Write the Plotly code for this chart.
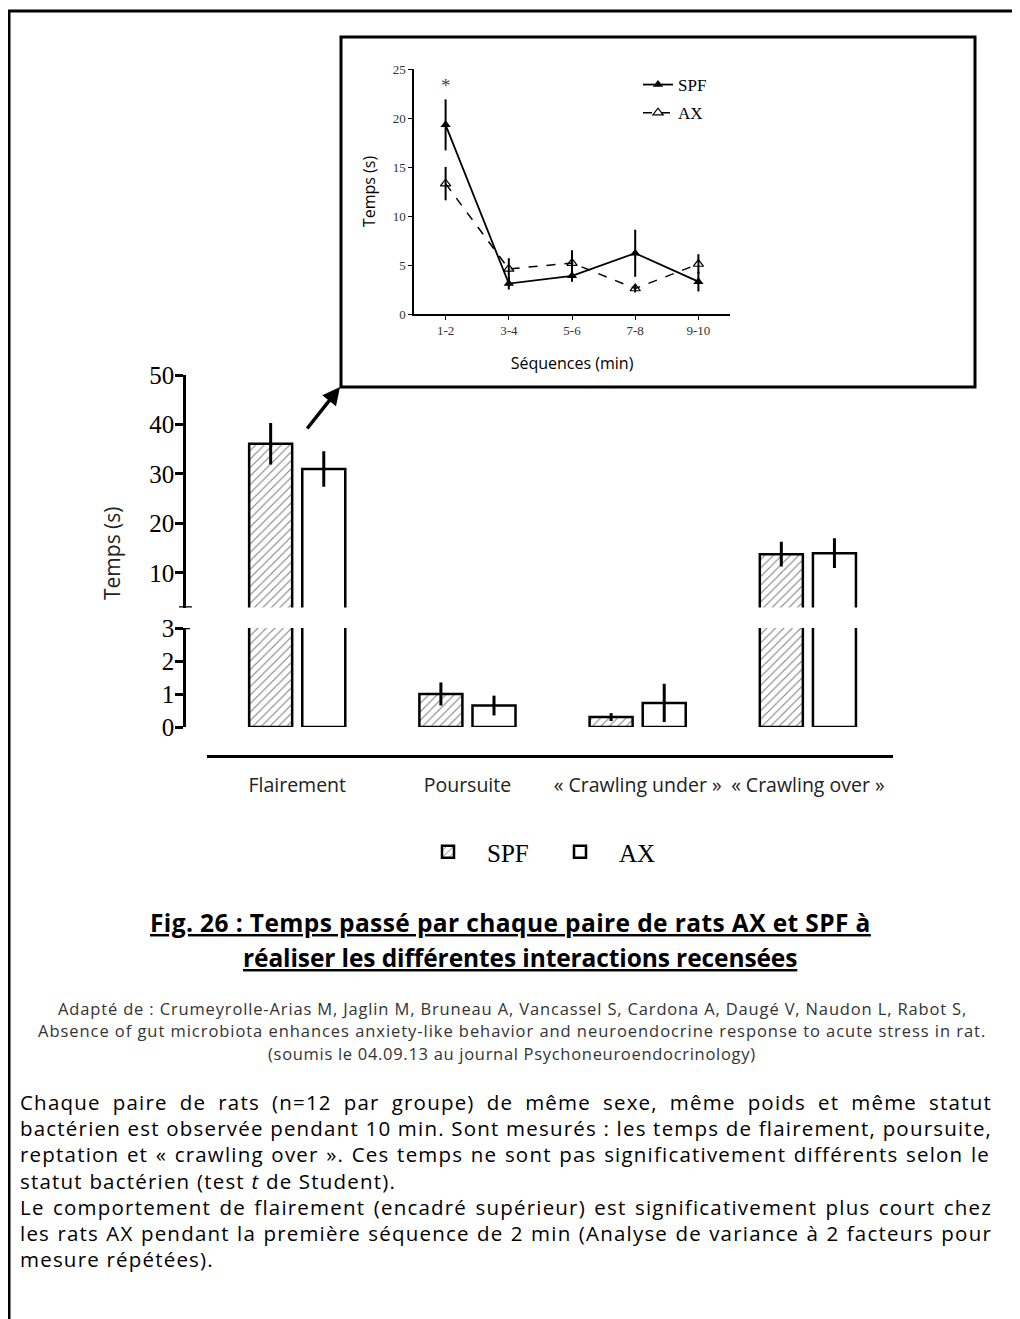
import plotly.graph_objects as go

W, H = 1020, 1319
OFF = 8  # default page margin of the html body
def px(x): return (x - OFF) / W
def py(y): return 1 - (y - OFF) / H

# ---------------- data ----------------
categories = ["Flairement", "Poursuite", "« Crawling under »", "« Crawling over »"]
spf_vals = [36.1, 1.0, 0.30, 13.8]
spf_err = [4.2, 0.35, 0.12, 2.5]
ax_vals = [31.0, 0.65, 0.73, 14.0]
ax_err = [3.6, 0.30, 0.58, 3.0]

seq_labels = ["1-2", "3-4", "5-6", "7-8", "9-10"]
seq_spf = [19.3, 3.1, 3.9, 6.2, 3.3]
seq_spf_err = [2.6, 0.6, 0.6, 2.4, 1.0]
seq_ax = [13.3, 4.6, 5.2, 2.6, 5.1]
seq_ax_err = [1.7, 1.1, 1.3, 0.4, 1.0]

upper_ticks = [10, 20, 30, 40, 50]
lower_ticks = [0, 1, 2, 3]
BREAK = 3

SERIF = "Liberation Serif"
SANS = "Open Sans"

fig = go.Figure()

def split_err(vals, errs, upper):
    return [e if ((v > BREAK) == upper) else 0 for v, e in zip(vals, errs)]

hatch = dict(shape="/", fgcolor="black", bgcolor="white", size=6, solidity=0.18)
for upper, yax in [(True, "y2"), (False, "y")]:
    fig.add_trace(go.Bar(
        x=categories, y=spf_vals, xaxis="x", yaxis=yax, name="SPF",
        marker=dict(color="white", pattern=hatch, line=dict(color="black", width=2.5)),
        error_y=dict(type="data", array=split_err(spf_vals, spf_err, upper),
                     color="black", thickness=3, width=0),
        showlegend=upper, legend="legend"))
    fig.add_trace(go.Bar(
        x=categories, y=ax_vals, xaxis="x", yaxis=yax, name="AX",
        marker=dict(color="white", line=dict(color="black", width=2.5)),
        error_y=dict(type="data", array=split_err(ax_vals, ax_err, upper),
                     color="black", thickness=3, width=0),
        showlegend=upper, legend="legend"))

# inset line chart
fig.add_trace(go.Scatter(
    x=seq_labels, y=seq_spf, xaxis="x3", yaxis="y3", name="SPF", mode="lines+markers",
    line=dict(color="black", width=1.8),
    marker=dict(symbol="triangle-up", size=9, color="black"),
    error_y=dict(type="data", array=seq_spf_err, color="black", thickness=2, width=0),
    legend="legend2", legendgroup="a"))
fig.add_trace(go.Scatter(
    x=seq_labels, y=seq_ax, xaxis="x3", yaxis="y3", name="AX", mode="lines+markers",
    line=dict(color="black", width=1.5, dash="dash"),
    marker=dict(symbol="triangle-up-open", size=9, color="black", line=dict(width=1.2)),
    error_y=dict(type="data", array=seq_ax_err, color="black", thickness=2, width=0),
    legend="legend2", legendgroup="b"))

axis_common = dict(showgrid=False, zeroline=False, showline=True, linecolor="black",
                   ticks="outside", tickcolor="black")

fig.update_layout(
    width=W, height=H, margin=dict(l=0, r=0, t=0, b=0, pad=0, autoexpand=False),
    paper_bgcolor="white", plot_bgcolor="rgba(0,0,0,0)",
    barmode="group", bargap=0.376, bargroupgap=0.19,
    xaxis=dict(domain=[px(207), px(893)], anchor="free", position=py(756),
               range=[-0.53, 3.5], showgrid=False, zeroline=False, showline=True,
               linecolor="black", linewidth=2.5, ticks="",
               tickfont=dict(family=SANS, size=19.5, color="#222"), ticklabelstandoff=11),
    yaxis=dict(domain=[py(727), py(628)], anchor="free", position=px(184),
               range=[0, BREAK], tickvals=lower_ticks, linewidth=2.5, ticklen=8, tickwidth=2.5,
               ticklabelstandoff=-4,
               tickfont=dict(family=SERIF, size=25, color="black"), **axis_common),
    yaxis2=dict(domain=[py(607.6), py(375)], anchor="free", position=px(184),
                range=[BREAK, 50], tickvals=upper_ticks, linewidth=2.5, ticklen=8, tickwidth=2.5,
                ticklabelstandoff=-4,
                tickfont=dict(family=SERIF, size=25, color="black"), **axis_common),
    xaxis3=dict(domain=[px(414), px(730)], anchor="y3", range=[-0.5, 4.5],
                linewidth=1.5, ticklen=4, tickwidth=1.2,
                tickfont=dict(family=SERIF, size=13, color="#333"),
                title=dict(text="Séquences (min)", font=dict(family=SANS, size=16, color="black"),
                           standoff=20),
                **axis_common),
    yaxis3=dict(domain=[py(314), py(69)], anchor="x3", range=[0, 25], dtick=5,
                linewidth=1.5, ticklen=4, tickwidth=1.2,
                tickfont=dict(family=SERIF, size=13, color="#333"),
                title=dict(text="Temps (s)", font=dict(family=SANS, size=16, color="black"),
                           standoff=13),
                **axis_common),
    legend=dict(orientation="h", x=px(409), xanchor="left", y=py(852), yanchor="middle",
                font=dict(family=SERIF, size=25, color="black"), bgcolor="rgba(0,0,0,0)",
                itemwidth=68, entrywidth=49, entrywidthmode="pixels", traceorder="normal"),
    legend2=dict(x=px(638), y=py(67), xanchor="left", yanchor="top",
                 font=dict(family=SERIF, size=17, color="black"), bgcolor="rgba(0,0,0,0)",
                 itemwidth=30, traceorder="grouped", tracegroupgap=3),
)

shapes = [
    # page frame (top and left)
    dict(type="line", xref="paper", yref="paper", x0=px(8), x1=1, y0=py(11), y1=py(11),
         line=dict(color="black", width=3)),
    dict(type="line", xref="paper", yref="paper", x0=px(9), x1=px(9), y0=py(11), y1=0,
         line=dict(color="black", width=3)),
    # inset frame
    dict(type="rect", xref="paper", yref="paper", x0=px(341), x1=px(975), y0=py(387), y1=py(37),
         line=dict(color="black", width=3)),
    # axis break caps
    dict(type="line", xref="paper", yref="y2", x0=px(179), x1=px(192), y0=BREAK, y1=BREAK,
         line=dict(color="black", width=2.5)),
    dict(type="line", xref="paper", yref="y", x0=px(177), x1=px(190), y0=BREAK, y1=BREAK,
         line=dict(color="black", width=2.5)),
]
fig.update_layout(shapes=shapes)

# approximate Open Sans advance widths (em) used to justify paragraph lines
OS_W = {" ": .260, "a": .556, "b": .613, "c": .476, "d": .613, "e": .561, "f": .339,
        "g": .548, "h": .614, "i": .253, "j": .253, "k": .525, "l": .253, "m": .930,
        "n": .614, "o": .604, "p": .613, "q": .613, "r": .408, "s": .477, "t": .353,
        "u": .614, "v": .501, "w": .778, "x": .524, "y": .502, "z": .477, "A": .633,
        "C": .631, "L": .519, "S": .549, "X": .575, "0": .572, "1": .572, "2": .572,
        "(": .288, ")": .288, ".": .266, ",": .245, ":": .266, "=": .572, "«": .531,
        "»": .531, "é": .561, "è": .561, "ê": .561, "à": .556, "-": .322}
def text_w(s, size):
    return sum(OS_W.get(c, .55) for c in s) * size

def ann_text(text, x, y, size, family=SANS, color="black", xanchor="center", angle=0):
    return dict(text=text, xref="paper", yref="paper", x=px(x), y=py(y), xanchor=xanchor,
                yanchor="middle", textangle=angle, showarrow=False,
                font=dict(family=family, size=size, color=color))

ann = []
ann.append(ann_text("Temps (s)", 112, 553, 21, color="#222", angle=-90))
ann.append(dict(text="*", xref="x3", yref="y3", x=seq_labels[0], y=23.3, showarrow=False,
                xanchor="center", yanchor="middle",
                font=dict(family=SERIF, size=19, color="#444")))
ann.append(dict(text="", xref="paper", yref="paper", x=px(340), y=py(387), ax=-34, ay=43,
                showarrow=True, arrowhead=2, arrowsize=1, arrowwidth=3.5, arrowcolor="black"))

# title (bold, underlined)
title_lines = [("Fig. 26 : Temps passé par chaque paire de rats AX et SPF à", 510, 0.4),
               ("réaliser les différentes interactions recensées", 520, -0.1)]
for i, (t, xc, ls) in enumerate(title_lines):
    ann.append(ann_text('<span style="letter-spacing:%.2fpx"><b><u>%s</u></b></span>' % (ls, t),
                        xc, 923 + 34 * i, 24.5))

caption_lines = [
    ("Adapté de : Crumeyrolle-Arias M, Jaglin M, Bruneau A, Vancassel S, Cardona A, Daugé V, Naudon L, Rabot S,", 0.85),
    ("Absence of gut microbiota enhances anxiety-like behavior and neuroendocrine response to acute stress in rat.", 0.95),
    ("(soumis le 04.09.13 au journal Psychoneuroendocrinology)", 0.7),
]
for i, (t, ls) in enumerate(caption_lines):
    ann.append(ann_text('<span style="letter-spacing:%.2fpx">%s</span>' % (ls, t),
                        512, 1008 + 22.5 * i, 16.5, color="#333"))

PARA_SIZE = 20.5
PARA_LS = 1.2
para_lines = [
    ("Chaque paire de rats (n=12 par groupe) de même sexe, même poids et même statut", True),
    ("bactérien est observée pendant 10 min. Sont mesurés : les temps de flairement, poursuite,", True),
    ("reptation et « crawling over ». Ces temps ne sont pas significativement différents selon le", True),
    ("statut bactérien (test <i>t</i> de Student).", False),
    ("Le comportement de flairement (encadré supérieur) est significativement plus court chez", True),
    ("les rats AX pendant la première séquence de 2 min (Analyse de variance à 2 facteurs pour", True),
    ("mesure répétées).", False),
]
LEFT, RIGHT = 20, 992
for i, (t, justify) in enumerate(para_lines):
    style = "letter-spacing:%.2fpx" % PARA_LS
    if justify:
        n_sp = t.count(" ")
        natural = text_w(t, PARA_SIZE) + len(t) * PARA_LS
        ws = (RIGHT - LEFT - natural) / n_sp
        style += ";word-spacing:%.2fpx" % ws
    ann.append(ann_text('<span style="%s">%s</span>' % (style, t),
                        LEFT - 2, 1102 + 26.2 * i, PARA_SIZE, xanchor="left"))

fig.update_layout(annotations=ann)
fig.write_html("out.html")
